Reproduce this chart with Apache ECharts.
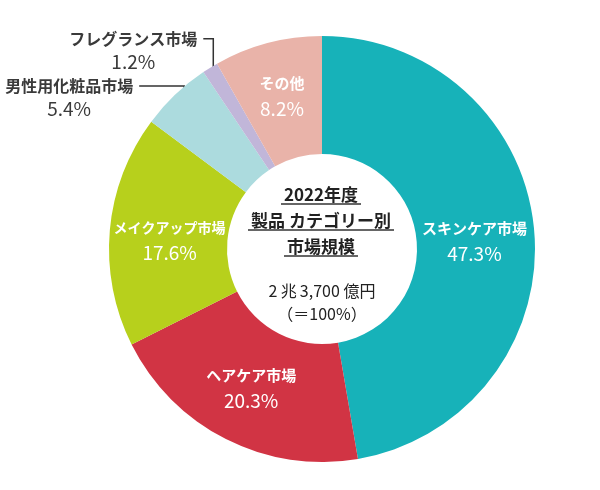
<!DOCTYPE html>
<html>
<head>
<meta charset="utf-8">
<script src="https://cdn.jsdelivr.net/npm/echarts@6.0.0/dist/echarts.min.js"></script>
<style>
html,body{margin:0;padding:0;background:#fff;}
#c{width:600px;height:490px;}
</style>
</head>
<body>
<div id="c"></div>
<script>
// ---- data ----
const categories = ['スキンケア市場', 'ヘアケア市場', 'メイクアップ市場', '男性用化粧品市場', 'フレグランス市場', 'その他'];
const shares = [47.3, 20.3, 17.6, 5.4, 1.2, 8.2];
const sliceColors = ['#17b2b9', '#d13444', '#b7d01c', '#acdbde', '#c1b6d9', '#e9b3a9'];
const centerTitle = ['2022年度', '製品 カテゴリー別', '市場規模'];
const centerTotal = ['2\u2009兆\u20093,700 億円', '（＝100%）'];

// ---- layout (not data) ----
const CX = 322, CY = 249, R0 = 95, R1 = 213;
// leader lines for outside labels: radius of start point, vertical rise, horizontal run
const leader = { 3: { r: 200, up: 18, left: 45 }, 4: { r: 207, up: 34, left: 10 } };
// small nudges / name font sizes of inside labels
const insideNudge = { 0: [-4, 6], 2: [4, 6] };
const insideNameSize = { 2: 14 };
const titleUnderline = [80, 146, 74];

const total = shares.reduce((a, b) => a + b, 0);
const fontFam = '"Noto Sans CJK JP", "Noto Sans", sans-serif';

function insideRich(nameSize) {
  return {
    n: { fontSize: nameSize, fontWeight: 'bold', color: '#fff', lineHeight: 24, align: 'center', fontFamily: fontFam },
    p: { fontSize: 19, color: '#fff', lineHeight: 27, align: 'center', fontFamily: fontFam }
  };
}

const data = categories.map((name, i) => {
  const item = { name: name, value: shares[i], itemStyle: { color: sliceColors[i] } };
  if (leader[i]) {
    item.label = {
      position: 'outside',
      rich: {
        n: { fontSize: 16, fontWeight: 'bold', color: '#3a3a3a', lineHeight: 22, align: 'center', fontFamily: fontFam },
        p: { fontSize: 19, color: '#3a3a3a', lineHeight: 24, align: 'center', fontFamily: fontFam }
      }
    };
    item.labelLine = { show: true, lineStyle: { color: '#333', width: 1.5 } };
  } else {
    item.label = { rich: insideRich(insideNameSize[i] || 15) };
    if (insideNudge[i]) item.label.offset = insideNudge[i];
  }
  return item;
});

const chart = echarts.init(document.getElementById('c'), null, { renderer: 'canvas' });

const graphics = [];
const titleY = [195, 221, 247];
centerTitle.forEach((t, i) => {
  graphics.push({
    type: 'text', x: CX - 1, y: titleY[i],
    style: { text: t, fill: '#222', font: 'bold 17px ' + fontFam, align: 'center', verticalAlign: 'middle' }
  });
  graphics.push({
    type: 'line',
    shape: { x1: CX - 1 - titleUnderline[i] / 2, y1: titleY[i] + 9, x2: CX - 1 + titleUnderline[i] / 2, y2: titleY[i] + 9 },
    style: { stroke: '#333', lineWidth: 1.5 }
  });
});
const totalY = [291, 314];
centerTotal.forEach((t, i) => {
  graphics.push({
    type: 'text', x: CX, y: totalY[i],
    style: { text: t, fill: '#222', font: '16px ' + fontFam, align: 'center', verticalAlign: 'middle' }
  });
});

chart.setOption({
  animation: false,
  backgroundColor: '#fff',
  graphic: graphics,
  series: [{
    type: 'pie',
    center: [CX, CY],
    radius: [R0, R1],
    startAngle: 90,
    clockwise: true,
    avoidLabelOverlap: false,
    itemStyle: { borderWidth: 0 },
    label: {
      show: true,
      position: 'inside',
      overflow: 'none',
      formatter: '{n|{b}}\n{p|{c}%}',
      rich: insideRich(15)
    },
    labelLine: { show: false },
    emphasis: { disabled: true },
    labelLayout: function (p) {
      const cfg = leader[p.dataIndex];
      if (!cfg) return {};
      let before = 0;
      for (let i = 0; i < p.dataIndex; i++) before += shares[i];
      const th = (before + shares[p.dataIndex] / 2) / total * 2 * Math.PI;
      const sx = CX + cfg.r * Math.sin(th);
      const sy = CY - cfg.r * Math.cos(th);
      const ty = sy - cfg.up;
      const ex = sx - cfg.left;
      return {
        x: ex - 6, y: ty - 11, align: 'right', verticalAlign: 'top',
        labelLinePoints: [[sx, sy], [sx, ty], [ex, ty]]
      };
    },
    data: data
  }]
});
</script>
</body>
</html>
